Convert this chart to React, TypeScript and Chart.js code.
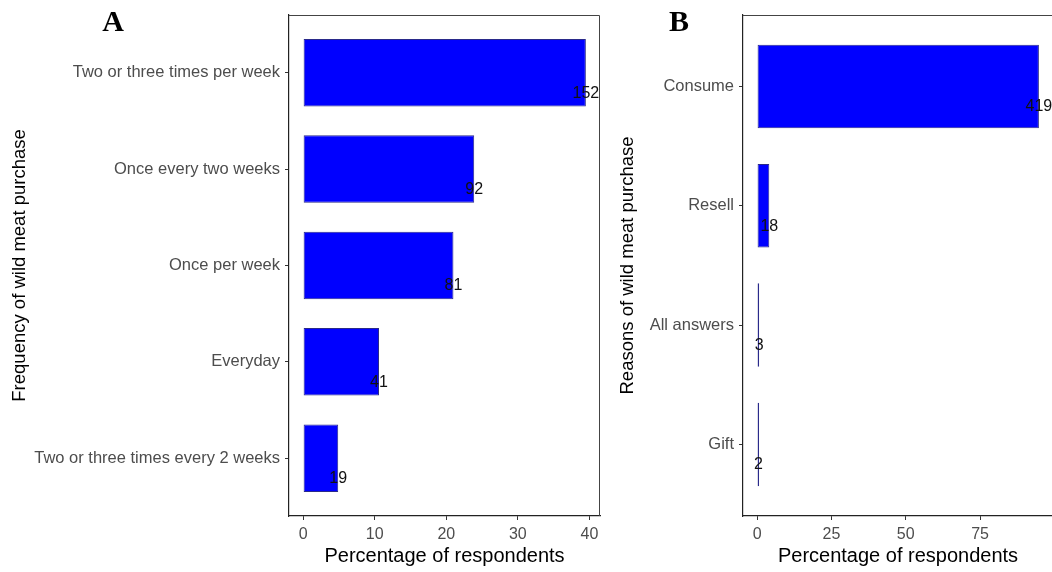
import React, { useEffect, useRef } from 'react';
import { Chart, registerables } from 'chart.js';

Chart.register(...registerables);

// Panel A: frequency of wild meat purchase
const freqCategories = [
  'Two or three times per week',
  'Once every two weeks',
  'Once per week',
  'Everyday',
  'Two or three times every 2 weeks',
];
const freqPercent = [39.5, 23.9, 21.0, 10.6, 4.9];
const freqCounts = [152, 92, 81, 41, 19];
const freqTicks = [0, 10, 20, 30, 40];

// Panel B: reasons of wild meat purchase
const reasonCategories = ['Consume', 'Resell', 'All answers', 'Gift'];
const reasonPercent = [94.8, 4.1, 0.7, 0.45];
const reasonCounts = [419, 18, 3, 2];
const reasonTicks = [0, 25, 50, 75];

const FONT = '"Liberation Sans", Arial, Helvetica, sans-serif';
const SERIF = '"Liberation Serif", "Times New Roman", serif';

const framePlugin = {
  id: 'frameLines',
  afterDraw(chart: any) {
    const { ctx, chartArea } = chart;
    ctx.save();
    ctx.strokeStyle = '#444';
    ctx.lineWidth = 1;
    ctx.beginPath();
    const top = Math.round(chartArea.top) + 0.5;
    const right = Math.round(chartArea.right) - 0.5;
    ctx.moveTo(chartArea.left, top);
    ctx.lineTo(right, top);
    ctx.lineTo(right, chartArea.bottom);
    ctx.stroke();
    ctx.restore();
  },
};

const countLabelPlugin = {
  id: 'countLabels',
  afterDatasetsDraw(chart: any, _args: any, opts: any) {
    const { ctx } = chart;
    const xs = chart.scales.x;
    const ys = chart.scales.y;
    const values: number[] = opts.values || [];
    const counts: number[] = opts.counts || [];
    ctx.save();
    ctx.font = `16px ${FONT}`;
    ctx.fillStyle = '#111';
    ctx.textAlign = 'center';
    ctx.textBaseline = 'alphabetic';
    values.forEach((v, i) => {
      const x = xs.getPixelForValue(v);
      const y = ys.getPixelForValue(i) + 25;
      ctx.fillText(String(counts[i]), x, y);
    });
    ctx.restore();
  },
};

const letterPlugin = {
  id: 'panelLetter',
  afterDraw(chart: any, _args: any, opts: any) {
    if (!opts || !opts.text) return;
    const { ctx } = chart;
    ctx.save();
    ctx.font = `bold 30px ${SERIF}`;
    ctx.fillStyle = '#000';
    ctx.textAlign = 'center';
    ctx.textBaseline = 'alphabetic';
    ctx.fillText(opts.text, opts.x, opts.y);
    ctx.restore();
  },
};

function makeConfig(
  cats: string[],
  pcts: number[],
  counts: number[],
  ticks: number[],
  yTitle: string,
  letter: string,
  letterX: number,
  yAxisWidth: number,
  yTitlePad: number,
  rightPad: number
): any {
  const maxV = Math.max(...pcts);
  return {
    type: 'bar',
    data: {
      datasets: [
        {
          data: pcts.map((v, i) => ({ x: v, y: i })),
          backgroundColor: '#0000FF',
          borderColor: '#2a2a8a',
          borderWidth: 1,
          borderSkipped: false,
          minBarLength: 2,
          categoryPercentage: 1,
          barPercentage: 0.7,
        },
      ],
    },
    options: {
      indexAxis: 'y',
      animation: false,
      responsive: false,
      devicePixelRatio: 1,
      events: [],
      layout: { padding: { top: 14, right: rightPad, left: 0, bottom: 0 } },
      plugins: {
        legend: { display: false },
        tooltip: { enabled: false },
        countLabels: { values: pcts, counts },
        panelLetter: { text: letter, x: letterX, y: 31 },
      },
      scales: {
        x: {
          type: 'linear',
          offset: false,
          min: -0.05 * maxV,
          max: 1.05 * maxV,
          afterBuildTicks: (s: any) => {
            s.ticks = ticks.map((v) => ({ value: v }));
          },
          afterFit: (s: any) => {
            s.height = 56;
          },
          ticks: {
            autoSkip: false,
            maxRotation: 0,
            color: '#4d4d4d',
            font: { family: FONT, size: 16 },
            padding: 5,
            callback: (v: any) => String(v),
          },
          grid: {
            drawOnChartArea: false,
            drawTicks: true,
            tickLength: 4,
            color: '#333',
            lineWidth: 1,
            offset: false,
          },
          border: { display: true, color: '#222', width: 1.2 },
          title: {
            display: true,
            text: 'Percentage of respondents',
            color: '#000',
            font: { family: FONT, size: 20 },
            padding: { top: 0, bottom: 4 },
          },
        },
        y: {
          type: 'linear',
          offset: false,
          reverse: true,
          bounds: 'data',
          min: -0.6,
          max: cats.length - 0.4,
          afterBuildTicks: (s: any) => {
            s.ticks = cats.map((_, i) => ({ value: i }));
          },
          afterFit: (s: any) => {
            s.width = yAxisWidth;
          },
          ticks: {
            autoSkip: false,
            color: '#4d4d4d',
            font: { family: FONT, size: 16.5 },
            padding: 5,
            callback: (v: any) => cats[v],
          },
          grid: {
            drawOnChartArea: false,
            drawTicks: true,
            tickLength: 4,
            color: '#333',
            lineWidth: 1,
            offset: false,
          },
          border: { display: true, color: '#222', width: 1.2 },
          title: {
            display: true,
            text: yTitle,
            color: '#000',
            font: { family: FONT, size: 18.5 },
            padding: { top: yTitlePad, bottom: 0 },
          },
        },
      },
    },
    plugins: [framePlugin, countLabelPlugin, letterPlugin],
  };
}

function Panel(props: { left: number; width: number; config: any }) {
  const ref = useRef<HTMLCanvasElement | null>(null);
  useEffect(() => {
    if (!ref.current) return;
    const chart = new Chart(ref.current, props.config);
    return () => chart.destroy();
  }, []);
  return (
    <canvas
      ref={ref}
      width={props.width}
      height={572}
      style={{ position: 'absolute', left: props.left, top: 0, width: props.width, height: 572, display: 'block' }}
    />
  );
}

export default function App() {
  const cfgA = makeConfig(
    freqCategories,
    freqPercent,
    freqCounts,
    freqTicks,
    'Frequency of wild meat purchase',
    'A',
    113,
    289,
    9,
    5
  );
  const cfgB = makeConfig(
    reasonCategories,
    reasonPercent,
    reasonCounts,
    reasonTicks,
    'Reasons of wild meat purchase',
    'B',
    74,
    138,
    12,
    12
  );
  return (
    <div
      style={{
        position: 'absolute',
        left: 0,
        top: 0,
        width: 1052,
        height: 572,
        overflow: 'hidden',
        background: '#fff',
      }}
    >
      <Panel left={0} width={605} config={cfgA} />
      <Panel left={605} width={460} config={cfgB} />
    </div>
  );
}
